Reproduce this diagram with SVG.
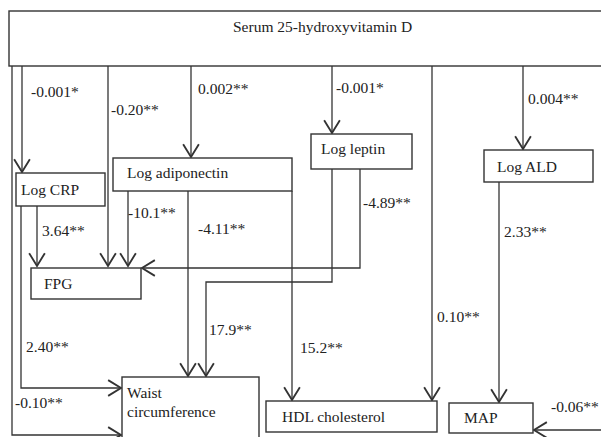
<svg xmlns="http://www.w3.org/2000/svg" width="601" height="437" viewBox="0 0 601 437">
<defs>
<marker id="arr" markerUnits="userSpaceOnUse" markerWidth="20" markerHeight="20" refX="0" refY="0" viewBox="-11 -7 13 14" orient="auto">
<path d="M-9,-5.5 L0,0 L-9,5.5" fill="none" stroke="#333" stroke-width="1.3"/>
</marker>
<style>
rect{fill:#fff;stroke:#333;stroke-width:1.4}
text{font-family:"Liberation Serif","Times New Roman",serif;font-size:15.5px;fill:#222}
#connectors path{fill:none;stroke:#333;stroke-width:1.3}
.a{marker-end:url(#arr)}
</style>
</defs>
<rect x="0" y="0" width="601" height="437" style="fill:#fff;stroke:none"/>
<g id="serum"><rect x="9" y="11" width="600" height="55"/><text x="233" y="32">Serum 25-hydroxyvitamin D</text></g>
<g id="connectors">
<path class="a" d="M12,66 V435 H121"/>
<path class="a" d="M22,66 V172"/>
<path class="a" d="M108,66 V266"/>
<path class="a" d="M191,66 V157"/>
<path class="a" d="M332,66 V133"/>
<path class="a" d="M432,66 V400"/>
<path class="a" d="M523,66 V149"/>
<path class="a" d="M37,206 V266"/>
<path class="a" d="M21,206 V388 H121"/>
<path class="a" d="M128,191 V266"/>
<path class="a" d="M188,191 V376"/>
<path class="a" d="M292,191 V400"/>
<path class="a" d="M360,169 V268 H142"/>
<path class="a" d="M332,169 V282 H206 V376"/>
<path class="a" d="M499,182 V402"/>
<path class="a" d="M601,430 H534"/>
</g>
<g id="logcrp"><rect x="16" y="173" width="89" height="33"/><text x="21" y="195">Log CRP</text></g>
<g id="logadiponectin"><rect x="113" y="158" width="179" height="33"/><text x="127" y="178">Log adiponectin</text></g>
<g id="logleptin"><rect x="311" y="134" width="101" height="35"/><text x="321" y="154">Log leptin</text></g>
<g id="logald"><rect x="484" y="150" width="109" height="32"/><text x="497" y="172">Log ALD</text></g>
<g id="fpg"><rect x="31" y="268" width="110" height="31"/><text x="44" y="289">FPG</text></g>
<g id="waist"><rect x="122" y="377" width="137" height="70"/><text x="127" y="398">Waist</text><text x="127" y="417">circumference</text></g>
<g id="hdl"><rect x="266" y="401" width="171" height="31"/><text x="282" y="422">HDL cholesterol</text></g>
<g id="map"><rect x="449" y="403" width="84" height="30"/><text x="464" y="423">MAP</text></g>
<g id="labels">
<text x="31" y="97">-0.001*</text>
<text x="111" y="115">-0.20**</text>
<text x="198" y="94">0.002**</text>
<text x="336" y="93">-0.001*</text>
<text x="528" y="104">0.004**</text>
<text x="42" y="236">3.64**</text>
<text x="128" y="218">-10.1**</text>
<text x="198" y="234">-4.11**</text>
<text x="363" y="208">-4.89**</text>
<text x="504" y="237">2.33**</text>
<text x="26" y="352">2.40**</text>
<text x="209" y="335">17.9**</text>
<text x="300" y="353">15.2**</text>
<text x="437" y="322">0.10**</text>
<text x="15" y="408">-0.10**</text>
<text x="551" y="412">-0.06**</text>
</g>
</svg>
